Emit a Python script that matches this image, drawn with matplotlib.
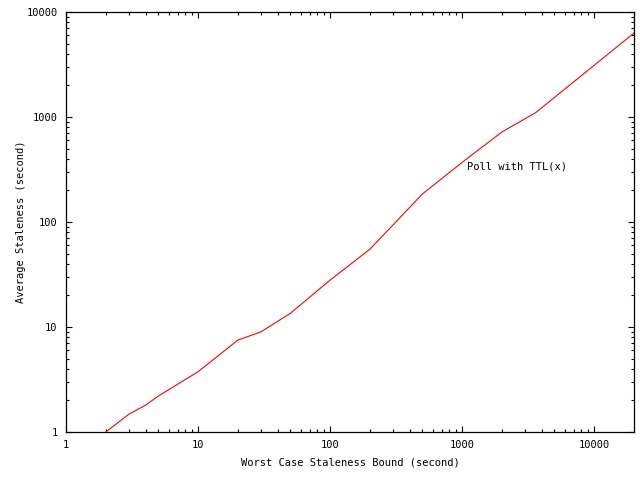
import matplotlib
matplotlib.use("Agg")
import matplotlib.pyplot as plt
from matplotlib.ticker import LogLocator, FixedLocator, FixedFormatter, NullFormatter

# worst case staleness bound vs average staleness
bound = [2, 3, 4, 5, 10, 20, 30, 50, 100, 200, 500, 1000, 2000, 3600, 20000]
staleness = [1, 1.48, 1.8, 2.2, 3.75, 7.5, 9, 13.5, 28, 55, 185, 370, 720, 1100, 6300]

xticks = [1, 10, 100, 1000, 10000]
yticks = [1, 10, 100, 1000, 10000]

plt.rcParams['font.family'] = ['DejaVu Sans Mono']
plt.rcParams['font.size'] = 7.5

fig = plt.figure(figsize=(6.4, 4.8), dpi=100)
ax = fig.add_axes([66 / 640, 48 / 480, 568 / 640, 420 / 480])

ax.plot(bound, staleness, color='red', linewidth=0.8)

ax.set_xscale('log')
ax.set_yscale('log')
ax.set_xlim(1, 20000)
ax.set_ylim(1, 10000)

ax.xaxis.set_major_locator(FixedLocator(xticks))
ax.xaxis.set_major_formatter(FixedFormatter([str(t) for t in xticks]))
ax.yaxis.set_major_locator(FixedLocator(yticks))
ax.yaxis.set_major_formatter(FixedFormatter([str(t) for t in yticks]))
ax.xaxis.set_minor_locator(LogLocator(base=10, subs=range(2, 10)))
ax.yaxis.set_minor_locator(LogLocator(base=10, subs=range(2, 10)))
ax.xaxis.set_minor_formatter(NullFormatter())
ax.yaxis.set_minor_formatter(NullFormatter())

ax.tick_params(which='both', direction='in', top=True, right=True, width=0.8, colors='black')
ax.tick_params(which='major', length=4.5, pad=6)
ax.tick_params(which='minor', length=2.5)
for s in ax.spines.values():
    s.set_linewidth(0.9)

ax.set_xlabel("Worst Case Staleness Bound (second)", labelpad=5)
ax.set_ylabel("Average Staleness (second)", labelpad=0)

ax.text(0.706, 0.631, "Poll with TTL(x)", transform=ax.transAxes, va='center', ha='left')

fig.savefig("out.png", dpi=100)
